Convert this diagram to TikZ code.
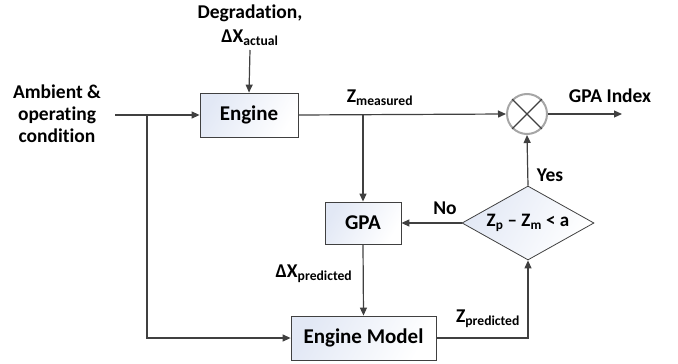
\documentclass[tikz,border=0pt]{standalone}
\usepackage{fontspec}
\setmainfont[Ligatures=NoCommon]{Carlito}
\usetikzlibrary{arrows.meta,shapes.geometric}
\definecolor{ln}{RGB}{64,64,64}
\definecolor{bxfill}{RGB}{226,232,245}
\tikzset{
  conn/.style={draw=ln,line width=1.2pt},
  arr/.style={conn,-{Triangle[length=8pt,width=7pt]}},
  blk/.style={draw=ln,line width=0.8pt,left color=bxfill,right color=white,
    shading angle=60,inner sep=0pt,font=\fontsize{21}{24}\selectfont\bfseries},
  lbl/.style={font=\fontsize{19.5}{22}\selectfont\bfseries,align=center,inner sep=0pt},
}
\begin{document}
\begin{tikzpicture}[x=1pt,y=-1pt]
\useasboundingbox (0,0) rectangle (678,364);
\node[blk,minimum width=98pt,minimum height=44pt] (eng) at (249,115) {Engine};
\node[blk,minimum width=76pt,minimum height=42pt] (gpa) at (363,223) {GPA};
\node[blk,minimum width=145pt,minimum height=44pt] (em) at (363.5,338) {Engine Model};
\node[draw=gray!70,line width=2pt,fill=white,circle,minimum size=40pt,inner sep=0pt] (mul) at (527,114) {};
\draw[ln,line width=1.2pt] (mul.45) -- (mul.225) (mul.135) -- (mul.315);
\node[blk,diamond,aspect=1.78,minimum width=132pt,minimum height=74pt,inner sep=0pt,font=\fontsize{19}{21}\selectfont\bfseries] (dec) at (528,223) {Z\textsubscript{p} – Z\textsubscript{m} < a};
% labels
\node[lbl] (amb) at (57,114) {Ambient \&\\operating\\condition};
\node[lbl] (deg) at (250,13) {Degradation,};
\node[lbl] (dxa) at (250,38) {ΔX\textsubscript{actual}};
\node[lbl] (zm) at (380,98) {Z\textsubscript{measured}};
\node[lbl] (gi) at (610,96) {GPA Index};
\node[lbl] (yes) at (550,175) {Yes};
\node[lbl] (no) at (445,208) {No};
\node[lbl] (dxp) at (314,274) {ΔX\textsubscript{predicted}};
\node[lbl] (zp) at (488,319) {Z\textsubscript{predicted}};
% coordinates
\coordinate (ambEnd) at (115,115);
\coordinate (br1) at (147,115);
\coordinate (br1d) at (147,338);
\coordinate (br2) at (363,115);
\coordinate (degTop) at (250,50);
\coordinate (giEnd) at (622,114);
\coordinate (zpc) at (528,338);
% connectors
\draw[arr] (degTop) -- (eng.north);
\draw[arr] (ambEnd) -- (eng.west);
\draw[arr] (br1) -- (br1d) -- (em.west);
\draw[arr] (eng.east) -- (mul.west);
\draw[arr] (br2) -- (gpa.north);
\draw[arr] (mul.east) -- (giEnd);
\draw[arr] (dec.north) -- (mul.south);
\draw[arr] (dec.west) -- (gpa.east);
\draw[arr] (gpa.south) -- (em.north);
\draw[arr] (em.east) -- (zpc) -- (dec.south);
\end{tikzpicture}
\end{document}
